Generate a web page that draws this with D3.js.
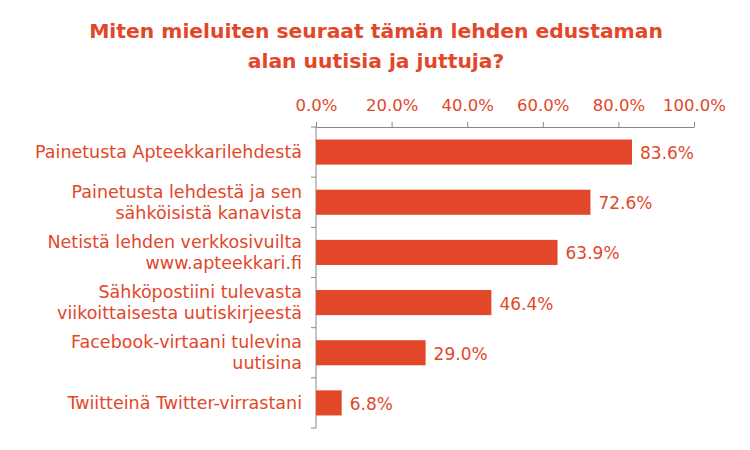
<!DOCTYPE html>
<html><head><meta charset="utf-8">
<script src="https://cdn.jsdelivr.net/npm/d3@7"></script>
<style>body{margin:0;background:#fff}</style></head>
<body><svg id="c" width="750" height="450"></svg>
<script>
const categories=[["Painetusta Apteekkarilehdestä"],["Painetusta lehdestä ja sen","sähköisistä kanavista"],["Netistä lehden verkkosivuilta","www.apteekkari.fi"],["Sähköpostiini tulevasta","viikoittaisesta uutiskirjeestä"],["Facebook-virtaani tulevina","uutisina"],["Twiitteinä Twitter-virrastani"]];
const values=[83.6,72.6,63.9,46.4,29.0,6.8];
const ticks=[0,20,40,60,80,100];
const col="#E2472A", font="'DejaVu Sans', Verdana, sans-serif";
const svg=d3.select("#c");
const x=d3.scaleLinear().domain([0,100]).range([316,694]);
const y=d3.scaleBand().domain(d3.range(6)).range([127,428]).paddingInner(0.5).paddingOuter(0.25);
svg.append("text").attr("x",376).attr("y",38).attr("text-anchor","middle").attr("fill",col).attr("font-family",font).attr("font-weight","bold").attr("font-size",20.3).text("Miten mieluiten seuraat tämän lehden edustaman");
svg.append("text").attr("x",376).attr("y",68).attr("text-anchor","middle").attr("fill",col).attr("font-family",font).attr("font-weight","bold").attr("font-size",20.3).text("alan uutisia ja juttuja?");
const ax=svg.append("g").attr("transform","translate(0,127)").call(d3.axisTop(x).tickValues(ticks).tickFormat(d=>d.toFixed(1)+"%").tickSize(5).tickSizeOuter(0));
ax.select(".domain").attr("stroke","#888");
ax.selectAll("line").attr("stroke","#888");
ax.selectAll("text").attr("fill",col).attr("font-family",font).attr("font-size",16.5).attr("dy","-0.5em");
svg.append("line").attr("x1",316).attr("x2",316).attr("y1",127).attr("y2",428).attr("stroke","#888");
d3.range(7).forEach(i=>{const yy=127+i*(301/6);svg.append("line").attr("x1",311).attr("x2",316).attr("y1",yy).attr("y2",yy).attr("stroke","#888");});
svg.selectAll("rect.b").data(values).join("rect").attr("x",x(0)).attr("y",(d,i)=>y(i)).attr("width",d=>x(d)-x(0)).attr("height",y.bandwidth()).attr("fill",col);
svg.selectAll("text.v").data(values).join("text").attr("x",d=>x(d)+8).attr("y",(d,i)=>y(i)+y.bandwidth()/2+7).attr("fill",col).attr("font-family",font).attr("font-size",17).text(d=>d.toFixed(1)+"%");
categories.forEach((lines,i)=>{const cy=y(i)+y.bandwidth()/2;const n=lines.length;
 lines.forEach((l,j)=>svg.append("text").attr("x",302).attr("y",cy+6+(j-(n-1)/2)*21).attr("text-anchor","end").attr("fill",col).attr("font-family",font).attr("font-size",17.5).text(l));});
</script></body></html>
